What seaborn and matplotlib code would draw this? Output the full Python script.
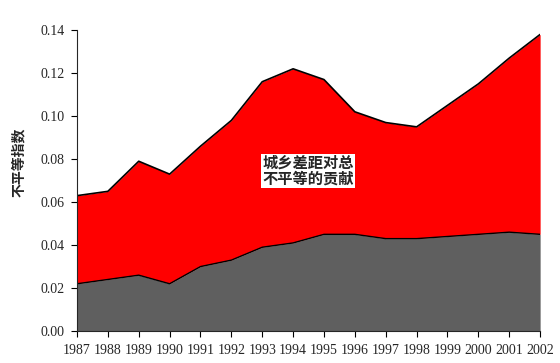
import numpy as np
import matplotlib
matplotlib.use("Agg")
import matplotlib.pyplot as plt
import seaborn as sns

years = [1987, 1988, 1989, 1990, 1991, 1992, 1993, 1994, 1995, 1996,
         1997, 1998, 1999, 2000, 2001, 2002]
total = [0.063, 0.065, 0.079, 0.073, 0.086, 0.098, 0.116, 0.122, 0.117,
         0.102, 0.097, 0.095, 0.105, 0.115, 0.127, 0.138]
within = [0.022, 0.024, 0.026, 0.022, 0.030, 0.033, 0.039, 0.041, 0.045,
          0.045, 0.043, 0.043, 0.044, 0.045, 0.046, 0.045]
y_ticks = [0.00, 0.02, 0.04, 0.06, 0.08, 0.10, 0.12, 0.14]

sns.set_style("ticks")
plt.rcParams['font.family'] = ['Liberation Serif', 'Noto Sans CJK SC']

fig = plt.figure(figsize=(5.6, 3.63), dpi=100)
ax = fig.add_axes([0.1375, 0.088, 0.827, 0.829])

ax.fill_between(years, within, total, color="#ff0000", linewidth=0)
ax.fill_between(years, 0, within, color="#5f5f5f", linewidth=0)
sns.lineplot(x=years, y=total, ax=ax, color="black", linewidth=1.2)
sns.lineplot(x=years, y=within, ax=ax, color="black", linewidth=1.0)

ax.set_xlim(1987, 2002)
ax.set_ylim(0, 0.14)
ax.set_xticks(years)
ax.set_yticks(y_ticks)
ax.set_yticklabels([f"{v:.2f}" for v in y_ticks])
ax.tick_params(labelsize=10, length=4, width=0.8, color="black", pad=5)
for s in ["top", "right"]:
    ax.spines[s].set_visible(False)
ax.spines["left"].set_linewidth(0.8)
ax.spines["bottom"].set_linewidth(0.8)

ax.set_ylabel("不平等指数", family=['Noto Sans CJK SC'], fontsize=10,
              fontweight="bold")
ax.yaxis.set_label_coords(-0.11, 0.56)

ax.text(1993.0, 0.0745, "城乡差距对总\n不平等的贡献", family=['Noto Sans CJK SC'],
        fontsize=11, fontweight="bold", ha="left", va="center", linespacing=1.0,
        bbox=dict(facecolor="white", edgecolor="none", pad=1))

fig.savefig("out.png", dpi=100)
